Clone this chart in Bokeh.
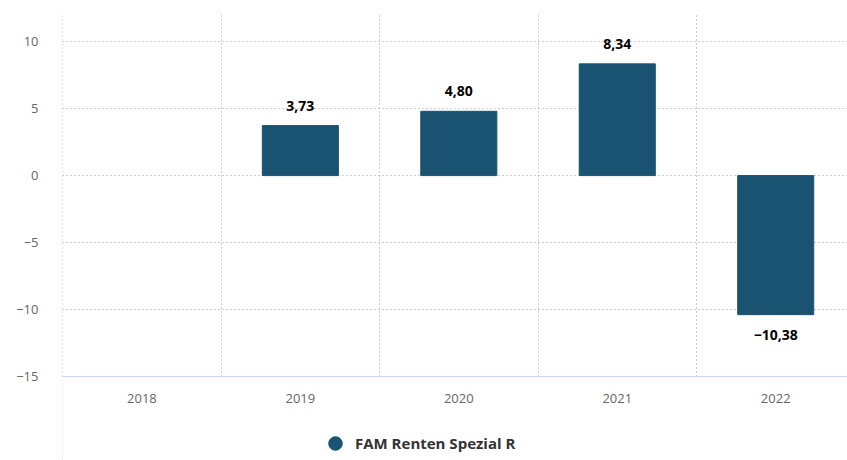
from bokeh.plotting import figure
from bokeh.models import (ColumnDataSource, FixedTicker, Range1d, Legend, LegendItem, BoxAnnotation)
from bokeh.core.properties import value
from bokeh.embed import file_html
from bokeh.resources import INLINE
import math

years = ["2018", "2019", "2020", "2021", "2022"]
returns = [float("nan"), 3.73, 4.80, 8.34, -10.38]
series_name = "FAM Renten Spezial R"
y_ticks = [-15, -10, -5, 0, 5, 10]

BAR = "#1a5371"
FONT = "Open Sans"
Y_MIN = y_ticks[0]

xs = list(range(len(years)))
labels = ["" if math.isnan(v) else f"{v:.2f}".replace(".", ",").replace("-", "\u2212") for v in returns]
label_y = [0 if math.isnan(v) else v for v in returns]
offsets = [0 if math.isnan(v) else (-20 if v >= 0 else 20) for v in returns]

src = ColumnDataSource(dict(x=xs, top=returns, ly=label_y, txt=labels, off=offsets))

# frame extends to the bottom of the canvas; the x axis is fixed at y = -15
p = figure(width=847, height=460, frame_width=785, frame_height=447,
           output_backend="svg", toolbar_location=None,
           x_range=Range1d(-0.501, 4.453), y_range=Range1d(-21.27, 12.1),
           min_border_left=62, min_border_right=0, min_border_top=13, min_border_bottom=0)
p.outline_line_color = None
p.background_fill_color = "white"

bars = p.vbar(x="x", top="top", bottom=0, width=0.48, source=src,
              fill_color=BAR, line_color=BAR)

# data labels
p.text(x="x", y="ly", text="txt", source=src, y_offset="off",
       text_align="center", text_baseline="middle",
       text_font=value(FONT), text_font_size="14px", text_font_style="bold",
       text_color="#000000")

# axes
p.yaxis.ticker = FixedTicker(ticks=y_ticks)
p.yaxis.major_label_overrides = {t: (str(t).replace("-", "\u2212")) for t in y_ticks}
p.yaxis.axis_line_color = None
p.yaxis.major_tick_line_color = None
p.yaxis.minor_tick_line_color = None
p.yaxis.major_tick_out = 0
p.yaxis.major_tick_in = 0
p.yaxis.minor_tick_out = 0
p.yaxis.major_label_text_font = FONT
p.yaxis.major_label_text_font_size = "13px"
p.yaxis.major_label_text_color = "#666666"
p.yaxis.major_label_standoff = 24

p.xaxis.fixed_location = Y_MIN
p.xaxis.ticker = FixedTicker(ticks=xs)
p.xaxis.major_label_overrides = {i: y for i, y in enumerate(years)}
p.xaxis.axis_line_color = "#ccd6eb"
p.xaxis.axis_line_width = 1
p.xaxis.major_tick_line_color = None
p.xaxis.minor_tick_line_color = None
p.xaxis.major_tick_out = 0
p.xaxis.major_tick_in = 0
p.xaxis.minor_tick_out = 0
p.xaxis.major_label_text_font = FONT
p.xaxis.major_label_text_font_size = "13px"
p.xaxis.major_label_text_color = "#666666"
p.xaxis.major_label_standoff = 17

# grids
p.xgrid.ticker = FixedTicker(ticks=[i - 0.5 for i in range(len(years) + 1)])
p.xgrid.grid_line_color = "#999999"
p.xgrid.grid_line_dash = "1 3"
p.ygrid.ticker = FixedTicker(ticks=[t for t in y_ticks if t > Y_MIN])
p.ygrid.grid_line_color = "#999999"
p.ygrid.grid_line_dash = "1 3"

# white mask hides grid lines below the x axis
mask = BoxAnnotation(top=Y_MIN, fill_color="white", fill_alpha=1.0,
                     line_color=None, level="underlay")
p.add_layout(mask)

# legend
dummy = p.scatter(x=[float("nan")], y=[float("nan")], marker="circle", size=17,
                  fill_color=BAR, line_color=BAR)
legend = Legend(items=[LegendItem(label=series_name, renderers=[dummy])],
                location=(256, 0), orientation="horizontal",
                border_line_color=None, background_fill_alpha=0,
                padding=0, margin=0, spacing=0,
                glyph_width=34, glyph_height=34, label_standoff=3,
                label_text_font=FONT, label_text_font_size="15px",
                label_text_font_style="bold", label_text_color="#333333")
p.add_layout(legend, "center")

open("out.html", "w").write(file_html(p, INLINE))
